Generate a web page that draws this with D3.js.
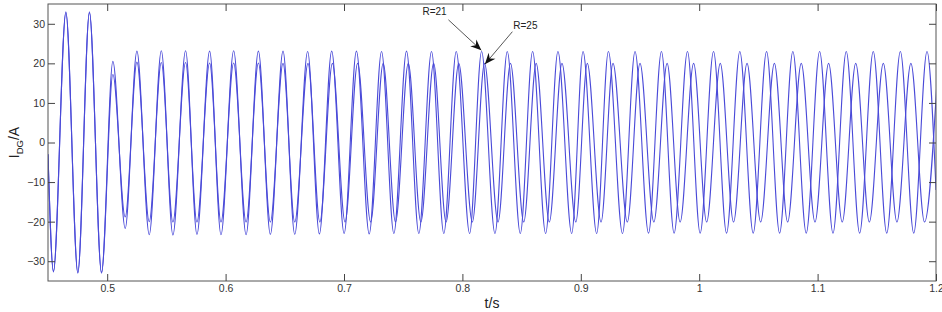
<!DOCTYPE html>
<html>
<head>
<meta charset="utf-8">
<script src="https://cdn.jsdelivr.net/npm/d3@7"></script>
<style>
  body { margin: 0; background: #fff; }
  svg { display: block; font-family: "Liberation Sans", Arial, sans-serif; }
</style>
</head>
<body>
<svg id="chart" width="942" height="312"></svg>
<script>
// extrema of the current waveforms (time in s, current in A)
const tR21 = [0.45, 0.4546, 0.4651, 0.4752, 0.4850, 0.4952, 0.5048, 0.5152, 0.5251, 0.5355,
  0.5457, 0.5555, 0.5662, 0.5758, 0.5865, 0.5961, 0.6068, 0.6173, 0.6277, 0.6378,
  0.6485, 0.6584, 0.6693, 0.6792, 0.6896, 0.7001, 0.7105, 0.7213, 0.7317, 0.7421,
  0.7528, 0.7632, 0.7739, 0.7843, 0.7948, 0.8061, 0.8162, 0.8275, 0.8379, 0.8489,
  0.8593, 0.8703, 0.8807, 0.8923, 0.9019, 0.9134, 0.9233, 0.9352, 0.9458, 0.9572,
  0.9681, 0.9788, 0.9901, 1.0008, 1.0121, 1.0231, 1.0343, 1.0456, 1.0569, 1.0679,
  1.0791, 1.0904, 1.1017, 1.1130, 1.1242, 1.1355, 1.1470, 1.1584, 1.1699, 1.1812,
  1.1924, 1.2];
const iR21 = [-3, -32.7, 33, -33, 33, -33, 20.5, -21.7, 23.1, -23.3,
  23.2, -23.4, 23.2, -23.2, 23.1, -23.3, 23.2, -23.3, 23.1, -23.2,
  23.1, -23.2, 23.0, -23.1, 23.1, -23.0, 23.1, -23.1, 23.0, -23.0,
  23.1, -23.0, 23.0, -23.0, 23.0, -23.0, 23.0, -23.0, 23.0, -23.0,
  23.0, -23.0, 23.0, -23.0, 23.0, -23.0, 23.0, -23.0, 23.0, -22.9,
  23.0, -22.9, 23.0, -22.9, 23.0, -22.9, 23.0, -22.9, 23.0, -22.9,
  23.0, -22.9, 23.0, -22.9, 23.0, -22.9, 23.0, -22.9, 23.0, -22.9,
  23.0, -12];

const tR25 = [0.45, 0.4546, 0.4651, 0.4752, 0.4850, 0.4952, 0.5048, 0.5152, 0.5251, 0.5355,
  0.5457, 0.5555, 0.5662, 0.5758, 0.5865, 0.5961, 0.6068, 0.6173, 0.6277, 0.6378,
  0.6485, 0.6584, 0.6696, 0.6796, 0.6902, 0.7009, 0.7115, 0.7225, 0.7331, 0.7435,
  0.7543, 0.7649, 0.7757, 0.7862, 0.7969, 0.8084, 0.8187, 0.8301, 0.8406, 0.8518,
  0.8623, 0.8734, 0.8841, 0.8958, 0.9055, 0.9171, 0.9272, 0.9393, 0.9500, 0.9617,
  0.9729, 0.9839, 0.9953, 1.0063, 1.0178, 1.0290, 1.0404, 1.0519, 1.0635, 1.0747,
  1.0862, 1.0978, 1.1093, 1.1208, 1.1322, 1.1437, 1.1555, 1.1670, 1.1788, 1.1903,
  1.2017];
const iR25 = [-3, -32.5, 32.8, -32.8, 32.8, -32.8, 17.2, -18.8, 20.3, -20.0,
  20.2, -20.1, 20.2, -20.1, 20.1, -20.1, 20.1, -20.1, 20.1, -20.1,
  20.0, -20.1, 20.0, -20.1, 20.0, -20.1, 20.0, -20.1, 20.0, -20.1,
  20.0, -20.1, 20.0, -20.1, 20.0, -20.1, 20.0, -20.1, 20.0, -20.1,
  20.0, -20.1, 20.0, -20.1, 20.0, -20.1, 20.0, -20.1, 20.0, -20.1,
  20.0, -20.1, 20.0, -20.1, 20.0, -20.1, 20.0, -20.1, 20.0, -20.1,
  20.0, -20.1, 20.0, -20.1, 20.0, -20.1, 20.0, -20.1, 20.0, -20.1,
  20.0];

const xTicks = [0.5, 0.6, 0.7, 0.8, 0.9, 1, 1.1, 1.2];
const xTickLabels = ["0.5", "0.6", "0.7", "0.8", "0.9", "1", "1.1", "1.2"];
const yTicks = [-30, -20, -10, 0, 10, 20, 30];

// annotations: label, text anchor point, arrow start, arrow tip (data coords)
const notes = [
  { label: "R=21", tx: 0.7663, ty: 32.2, x0: 0.7882, y0: 31.0, x1: 0.8160, y1: 23.3 },
  { label: "R=25", tx: 0.8430, ty: 28.6, x0: 0.8422, y0: 28.0, x1: 0.8190, y1: 19.8 }
];

const svg = d3.select("#chart");
const m = { left: 48, right: 936, top: 4, bottom: 281 };

const x = d3.scaleLinear().domain([0.45, 1.2]).range([m.left, m.right]);
const y = d3.scaleLinear().domain([-35, 35]).range([m.bottom, m.top]);

const defs = svg.append("defs");
defs.append("clipPath").attr("id", "plotClip")
  .append("rect")
  .attr("x", m.left).attr("y", m.top)
  .attr("width", m.right - m.left).attr("height", m.bottom - m.top);

defs.append("marker")
  .attr("id", "arrowHead")
  .attr("viewBox", "-12 -6 14 12")
  .attr("refX", 0).attr("refY", 0)
  .attr("markerUnits", "userSpaceOnUse")
  .attr("markerWidth", 14).attr("markerHeight", 12)
  .attr("orient", "auto")
  .append("path")
  .attr("d", "M0,0L-11,-4.5L-7.5,0L-11,4.5Z")
  .attr("fill", "#111");

const line = d3.line()
  .x(d => x(d[0]))
  .y(d => y(d[1]))
  .curve(d3.curveMonotoneX);

const plot = svg.append("g").attr("clip-path", "url(#plotClip)");

plot.append("path")
  .datum(d3.zip(tR21, iR21))
  .attr("fill", "none")
  .attr("stroke", "#4a4ad8")
  .attr("stroke-width", 1.1)
  .attr("d", line);

plot.append("path")
  .datum(d3.zip(tR25, iR25))
  .attr("fill", "none")
  .attr("stroke", "#4a4ad8")
  .attr("stroke-width", 1.1)
  .attr("d", line);

// box
svg.append("rect")
  .attr("x", m.left).attr("y", m.top)
  .attr("width", m.right - m.left).attr("height", m.bottom - m.top)
  .attr("fill", "none")
  .attr("stroke", "#555")
  .attr("stroke-width", 1);

function styleAxis(g) {
  g.select(".domain").remove();
  g.selectAll(".tick line").attr("stroke", "#444");
  g.selectAll(".tick text")
    .attr("fill", "#333")
    .style("font-size", "10.5px");
}

svg.append("g")
  .attr("transform", `translate(0,${m.bottom})`)
  .call(d3.axisBottom(x).tickValues(xTicks)
    .tickFormat((d, i) => xTickLabels[i])
    .tickSizeInner(-7).tickSizeOuter(0).tickPadding(5))
  .call(styleAxis)
  .selectAll(".tick text").attr("y", 4);

svg.append("g")
  .attr("transform", `translate(0,${m.top})`)
  .call(d3.axisTop(x).tickValues(xTicks).tickFormat("")
    .tickSizeInner(-7).tickSizeOuter(0))
  .call(styleAxis);

svg.append("g")
  .attr("transform", `translate(${m.left},0)`)
  .call(d3.axisLeft(y).tickValues(yTicks)
    .tickSizeInner(-7).tickSizeOuter(0).tickPadding(2))
  .call(styleAxis)
  .selectAll(".tick text").attr("x", -3);

svg.append("g")
  .attr("transform", `translate(${m.right},0)`)
  .call(d3.axisRight(y).tickValues(yTicks).tickFormat("")
    .tickSizeInner(-7).tickSizeOuter(0))
  .call(styleAxis);

// axis titles
svg.append("text")
  .attr("x", (m.left + m.right) / 2)
  .attr("y", 308)
  .attr("text-anchor", "middle")
  .attr("fill", "#222")
  .style("font-size", "14px")
  .text("t/s");

const yTitle = svg.append("text")
  .attr("transform", `translate(19,${(m.top + m.bottom) / 2}) rotate(-90)`)
  .attr("text-anchor", "middle")
  .attr("fill", "#222")
  .style("font-size", "14px");
yTitle.append("tspan").text("I");
yTitle.append("tspan").attr("dy", 4).style("font-size", "9.5px").text("DG");
yTitle.append("tspan").attr("dy", -4).text("/A");

// annotations
const ann = svg.append("g");
ann.selectAll("line")
  .data(notes)
  .join("line")
  .attr("x1", d => x(d.x0)).attr("y1", d => y(d.y0))
  .attr("x2", d => x(d.x1)).attr("y2", d => y(d.y1))
  .attr("stroke", "#444")
  .attr("stroke-width", 0.9)
  .attr("marker-end", "url(#arrowHead)");

ann.selectAll("text")
  .data(notes)
  .join("text")
  .attr("x", d => x(d.tx)).attr("y", d => y(d.ty))
  .attr("fill", "#222")
  .style("font-size", "10px")
  .text(d => d.label);
</script>
</body>
</html>
